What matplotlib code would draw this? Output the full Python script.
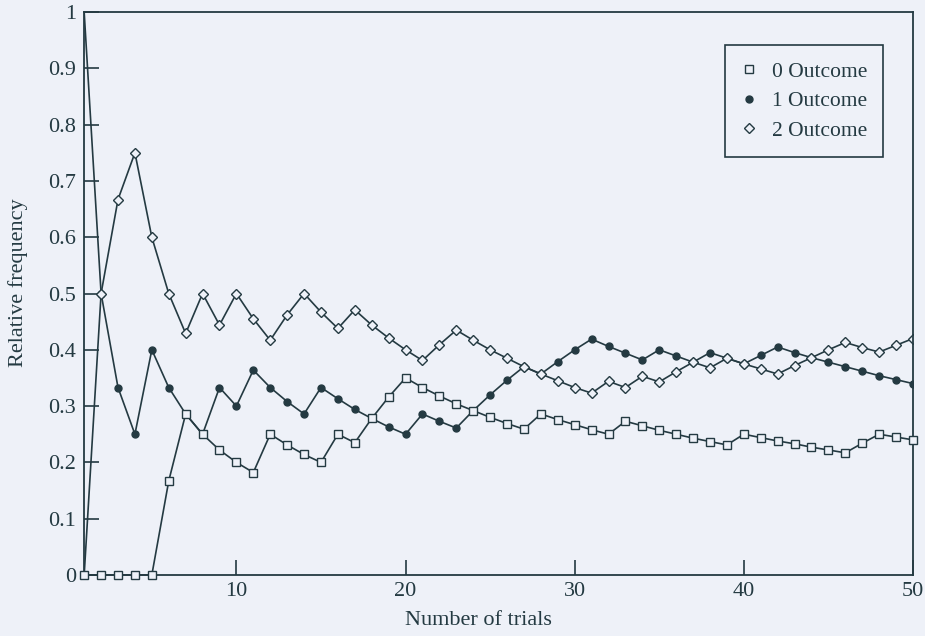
import matplotlib
matplotlib.use("Agg")
import matplotlib.pyplot as plt
import numpy as np

# trial number and cumulative relative frequency of each outcome
trials = np.arange(1, 51)
freq0 = [0, 0, 0, 0, 0, 0.167, 0.286, 0.25, 0.222, 0.2,
         0.182, 0.25, 0.231, 0.214, 0.2, 0.25, 0.235, 0.278, 0.316, 0.35,
         0.333, 0.318, 0.304, 0.292, 0.28, 0.269, 0.259, 0.286, 0.276, 0.267,
         0.258, 0.25, 0.273, 0.265, 0.257, 0.25, 0.243, 0.237, 0.231, 0.25,
         0.244, 0.238, 0.233, 0.227, 0.222, 0.217, 0.234, 0.25, 0.245, 0.24]
freq1 = [1, 0.5, 0.333, 0.25, 0.4, 0.333, 0.286, 0.25, 0.333, 0.3,
         0.364, 0.333, 0.308, 0.286, 0.333, 0.313, 0.294, 0.278, 0.263, 0.25,
         0.286, 0.273, 0.261, 0.292, 0.32, 0.346, 0.37, 0.357, 0.379, 0.4,
         0.419, 0.406, 0.394, 0.382, 0.4, 0.389, 0.378, 0.395, 0.385, 0.375,
         0.39, 0.405, 0.395, 0.386, 0.378, 0.37, 0.362, 0.354, 0.347, 0.34]
freq2 = [0, 0.5, 0.667, 0.75, 0.6, 0.5, 0.429, 0.5, 0.444, 0.5,
         0.455, 0.417, 0.462, 0.5, 0.467, 0.438, 0.471, 0.444, 0.421, 0.4,
         0.381, 0.409, 0.435, 0.417, 0.4, 0.385, 0.37, 0.357, 0.345, 0.333,
         0.323, 0.344, 0.333, 0.353, 0.343, 0.361, 0.378, 0.368, 0.385, 0.375,
         0.366, 0.357, 0.372, 0.386, 0.4, 0.413, 0.404, 0.396, 0.408, 0.42]
labels = ['0 Outcome', '1 Outcome', '2 Outcome']

ink = '#243a42'
paper = '#eef1f8'

plt.rcParams['font.family'] = ['Liberation Serif', 'DejaVu Serif']

fig = plt.figure(figsize=(9.25, 6.36), dpi=100, facecolor=paper)
ax = fig.add_axes([0.091, 0.096, 0.896, 0.885], facecolor=paper)

ax.plot(trials, freq1, '-o', color=ink, lw=1.2, ms=5, mfc=ink, mec=ink,
        markevery=range(1, 50), label=labels[1])
ax.plot(trials, freq2, '-D', color=ink, lw=1.2, ms=5, mfc=paper, mec=ink,
        mew=1.0, markevery=range(1, 50), label=labels[2])
ax.plot(trials, freq0, '-s', color=ink, lw=1.2, ms=5.5, mfc=paper, mec=ink,
        mew=1.0, clip_on=False, label=labels[0], zorder=3)

ax.set_xlim(1, 50)
ax.set_ylim(0, 1)
ax.set_xticks([10, 20, 30, 40, 50])
ax.set_yticks(np.arange(0, 1.01, 0.1))
ax.set_yticklabels(['0', '0.1', '0.2', '0.3', '0.4', '0.5',
                    '0.6', '0.7', '0.8', '0.9', '1'])
ax.tick_params(direction='in', length=11, width=1.2, colors=ink,
               labelsize=16, top=False, right=False)
ax.tick_params(axis='x', pad=5)
ax.tick_params(axis='y', pad=6)
for s in ax.spines.values():
    s.set_color(ink)
    s.set_linewidth(1.3)

ax.set_xlabel('Number of trials', fontsize=16, color=ink)
ax.set_ylabel('Relative frequency', fontsize=16, color=ink)
ax.xaxis.set_label_coords(0.476, -0.064)
ax.yaxis.set_label_coords(-0.068, 0.52)

handles, names = ax.get_legend_handles_labels()
order = [2, 0, 1]
leg = ax.legend([handles[i] for i in order], [names[i] for i in order],
                loc='upper right', bbox_to_anchor=(0.964, 0.941),
                borderaxespad=0, fancybox=False, frameon=True,
                edgecolor=ink, fontsize=15.5, markerscale=1.0,
                handlelength=0.7, handletextpad=0.7, borderpad=0.75,
                labelspacing=0.45, framealpha=1)
leg.get_frame().set_facecolor(paper)
leg.get_frame().set_linewidth(1.2)
for h in leg.get_lines():
    h.set_linestyle('none')
for t in leg.get_texts():
    t.set_color(ink)

plt.savefig('out.png', dpi=100, facecolor=paper)
